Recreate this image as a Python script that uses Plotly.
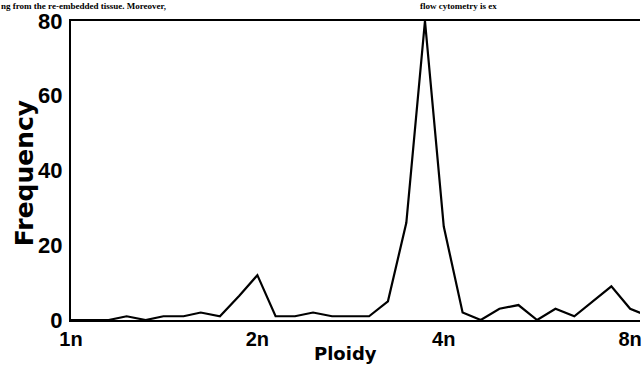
import plotly.graph_objects as go

# Ploidy bins (n) and frequencies
ploidy = [1.0, 1.07, 1.15, 1.23, 1.32, 1.41, 1.52, 1.62, 1.74, 1.87,
          2.0, 2.14, 2.30, 2.46, 2.64, 2.83, 3.03, 3.25, 3.48, 3.73,
          4.0, 4.29, 4.59, 4.92, 5.28, 5.66, 6.06, 6.50, 6.96, 7.46,
          8.0, 8.57]
frequency = [0, 0, 0, 1, 0, 1, 1, 2, 1, 6.5,
             12, 1, 1, 2, 1, 1, 1, 5, 26, 80,
             25, 2, 0, 3, 4, 0, 3, 1, 5, 9,
             3, 1]

tick_vals = [1, 2, 4, 8]
tick_text = ["1n", "2n", "4n", "8n"]
y_ticks = [0, 20, 40, 60, 80]

W, H = 642, 372
ML, MR, MT, MB = 71, 0, 21, 52
pw, ph = W - ML - MR, H - MT - MB

def px_x(p):
    return (p - ML) / pw

def px_y(p):
    return 1 - (p - MT) / ph

fig = go.Figure()
fig.add_trace(go.Scatter(x=ploidy, y=frequency, mode="lines",
                         line=dict(color="black", width=2.2),
                         showlegend=False, cliponaxis=True))

tick_font_y = dict(family="Liberation Sans", size=22, color="black", weight="bold")
tick_font_x = dict(family="Liberation Sans", size=20, color="black", weight="bold")

fig.update_layout(
    width=W, height=H,
    margin=dict(l=ML, r=MR, t=MT, b=MB),
    paper_bgcolor="white", plot_bgcolor="white",
    xaxis=dict(type="log", range=[0, 0.919],
               tickvals=tick_vals, ticktext=tick_text,
               showline=True, linecolor="black", linewidth=2, mirror=True,
               showgrid=False, zeroline=False, ticks="",
               ticklabelstandoff=0, ticklabeloverflow="allow",
               tickfont=tick_font_x),
    yaxis=dict(range=[0, 80], tickvals=y_ticks,
               showline=True, linecolor="black", linewidth=2, mirror=False,
               showgrid=False, zeroline=False, ticks="",
               ticklabelstandoff=2,
               tickfont=tick_font_y),
    annotations=[
        dict(text="Frequency", textangle=-90, xref="paper", yref="paper",
             x=px_x(24), y=px_y(173), showarrow=False,
             xanchor="center", yanchor="middle",
             font=dict(family="DejaVu Sans", size=25, color="black", weight="bold")),
        dict(text="Ploidy", xref="paper", yref="paper",
             x=px_x(346), y=px_y(353), showarrow=False,
             xanchor="center", yanchor="middle",
             font=dict(family="DejaVu Sans", size=18, color="black", weight="bold")),
        dict(text="ng from the re-embedded tissue. Moreover,", xref="paper", yref="paper",
             x=px_x(0), y=px_y(0), showarrow=False, borderpad=0,
             xanchor="left", yanchor="top",
             font=dict(family="Liberation Serif", size=9, color="black", weight="bold")),
        dict(text="flow cytometry is ex", xref="paper", yref="paper",
             x=px_x(420), y=px_y(0), showarrow=False, borderpad=0,
             xanchor="left", yanchor="top",
             font=dict(family="Liberation Serif", size=9, color="black", weight="bold")),
    ],
)

fig.write_html("out.html")
